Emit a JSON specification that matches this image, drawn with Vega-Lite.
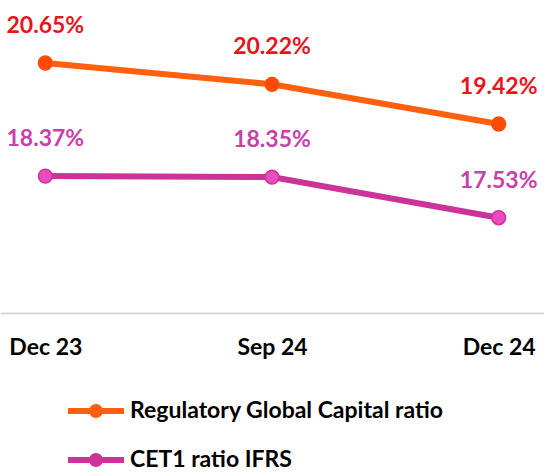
{
  "$schema": "https://vega.github.io/schema/vega-lite/v6.json",
  "width": 544,
  "height": 313,
  "autosize": "none",
  "padding": {"left": 0, "top": 0, "right": 0, "bottom": 160},
  "background": "white",
  "config": {"view": {"stroke": null}, "font": "Lato"},
  "data": {"values": [
    {"period": "Dec 23", "series": "Regulatory Global Capital ratio", "value": 20.65, "label": "20.65%"},
    {"period": "Sep 24", "series": "Regulatory Global Capital ratio", "value": 20.22, "label": "20.22%"},
    {"period": "Dec 24", "series": "Regulatory Global Capital ratio", "value": 19.42, "label": "19.42%"},
    {"period": "Dec 23", "series": "CET1 ratio IFRS", "value": 18.37, "label": "18.37%"},
    {"period": "Sep 24", "series": "CET1 ratio IFRS", "value": 18.35, "label": "18.35%"},
    {"period": "Dec 24", "series": "CET1 ratio IFRS", "value": 17.53, "label": "17.53%"}
  ]},
  "encoding": {
    "x": {"field": "period", "type": "ordinal", "sort": ["Dec 23", "Sep 24", "Dec 24"],
      "scale": {"type": "point", "padding": 0.2},
      "axis": {"title": null, "orient": "bottom", "ticks": false, "domainColor": "#d9d9d9", "domainWidth": 2,
        "labelFontSize": 23, "labelFontWeight": "bold", "labelColor": "#000000", "labelPadding": 23, "labelAngle": 0, "labelFont": "Lato"}},
    "y": {"field": "value", "type": "quantitative", "scale": {"domain": [15.61, 21.92], "zero": false, "nice": false}, "axis": null}
  },
  "layer": [
    {
      "mark": {"type": "line", "strokeWidth": 6},
      "encoding": {
        "color": {"field": "series", "type": "nominal",
          "scale": {"domain": ["Regulatory Global Capital ratio", "CET1 ratio IFRS"], "range": ["#FF6010", "#CC3399"]},
          "legend": {"title": null, "orient": "none", "legendX": 68, "legendY": 383, "direction": "vertical",
            "symbolType": "M-1,-0.11H1V0.11H-1Z M-0.25,0A0.25,0.25 0 1,1 0.25,0A0.25,0.25 0 1,1 -0.25,0Z",
            "symbolSize": 3136, "symbolStrokeWidth": 0, "symbolOpacity": 1,
            "labelFontSize": 23, "labelFontWeight": "bold", "labelColor": "#000000", "labelFont": "Lato",
            "labelOffset": 6, "rowPadding": 9, "labelLimit": 500,
            "encode": {"symbols": {"update": {"fill": {"scale": "color", "field": "value"}, "strokeWidth": {"value": 0}, "opacity": {"value": 1}}}}}
        }
      }
    },
    {
      "mark": {"type": "point", "shape": "circle", "filled": true, "size": 190, "opacity": 1},
      "encoding": {
        "fill": {"condition": {"test": "datum.series === 'CET1 ratio IFRS'", "value": "#E84CBE"}, "value": "#FF4A0A"},
        "stroke": {"condition": {"test": "datum.series === 'CET1 ratio IFRS'", "value": "#CC3399"}, "value": "#FF5000"},
        "strokeWidth": {"value": 1.5}
      }
    },
    {
      "mark": {"type": "text", "dy": -37, "fontSize": 23, "fontWeight": "bold", "font": "Lato"},
      "encoding": {
        "text": {"field": "label"},
        "color": {"condition": {"test": "datum.series === 'CET1 ratio IFRS'", "value": "#C940A8"}, "value": "#E8141C"}
      }
    }
  ]
}
